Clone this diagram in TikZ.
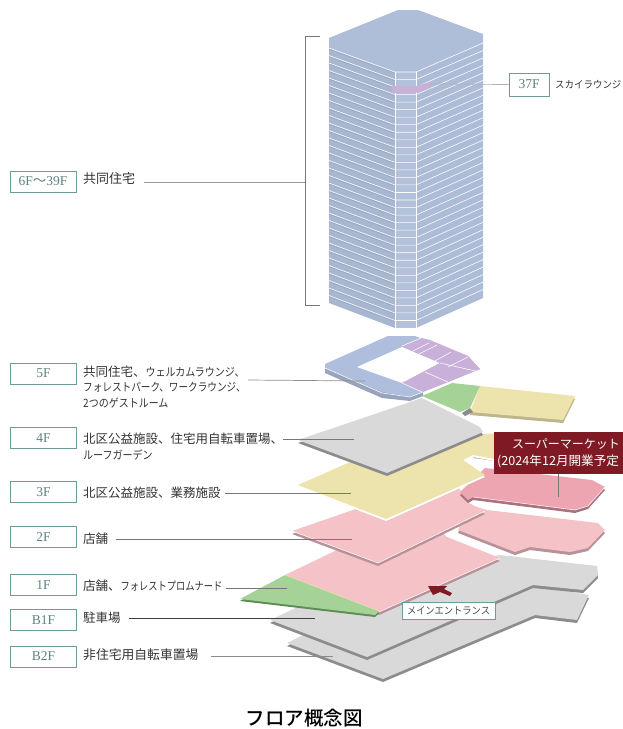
\documentclass[tikz,border=0pt]{standalone}
\usepackage{fontspec}
\setmainfont{Noto Sans CJK JP}
\newfontfamily\titlefont{Noto Sans CJK JP Medium}
\newfontfamily\boxfont{Liberation Serif}
\usetikzlibrary{calc}
\definecolor{tw}{HTML}{AEBDD8}
\definecolor{twl}{HTML}{A8B7D0}
\definecolor{twr}{HTML}{ADBCD6}
\definecolor{twc}{HTML}{B3C1DA}
\definecolor{twd}{HTML}{95A4BE}
\definecolor{bl}{HTML}{AEBEDC}
\definecolor{bld}{HTML}{98A4BC}
\definecolor{pu}{HTML}{C8B0D8}
\definecolor{gr}{HTML}{A5D296}
\definecolor{grd}{HTML}{5E8C55}
\definecolor{ye}{HTML}{EDE3AC}
\definecolor{yed}{HTML}{BDB68C}
\definecolor{gy}{HTML}{D9D9D9}
\definecolor{gyd}{HTML}{8C8C8C}
\definecolor{pk}{HTML}{F5C2C8}
\definecolor{pkd}{HTML}{B89299}
\definecolor{rd}{HTML}{EDA5B2}
\definecolor{rdd}{HTML}{A8737C}
\definecolor{mar}{HTML}{7F1A24}
\definecolor{tl}{HTML}{6F9A98}
\definecolor{ln}{HTML}{555555}
\tikzset{
  flbox/.style={draw=tl,line width=.7pt,fill=white,minimum width=66pt,minimum height=21pt,inner sep=0pt,text=tl!85!black,font=\boxfont\fontsize{13.5}{13.5}\selectfont},
  lab/.style={anchor=west,inner sep=0pt,text=black!80,font=\fontsize{12.5}{12.5}\selectfont},
  conn/.style={draw=ln!80,line width=.7pt},
  floorline/.style={white,line width=.55pt},
  edgeline/.style={white!70!#1,line width=.5pt},
  edgeline/.default=white
}
\newcommand{\kn}[2][.74]{\scalebox{#1}[.92]{#2}}
\newcommand{\slab}[4][3]{\fill[#2,shift={(0,#1)}] #4 -- cycle; \fill[#3] #4 -- cycle;}
\begin{document}
\begin{tikzpicture}[x=1pt,y=-1pt]
\useasboundingbox (0,0) rectangle (623,729);
% B2F
\slab{gyd}{gy}{(287,643)--(303,635)--(367,657)--(533,585)--(589,595)--(577,620)--(535,615)--(383,679)}
% B1F
\slab{gyd}{gy}{(270,620)--(360,578)--(500,555)--(597,566)--(598,575)--(583,590)--(533,585)--(367,657)}
% 1F
\slab{pkd}{pk}{(285,575)--(420,510)--(447,537)--(500,558)--(379,612)}
\draw[edgeline] (500,558)--(379,612);
\slab[2]{grd}{gr}{(240,599)--(285,575)--(379,611)--(375,615)}
\draw[edgeline,ye] (285,575)--(379,611);
% 2F right
\slab{pkd}{pk}{(458,530)--(470,505)--(487,510)--(598,523)--(605,530)--(588,548)--(570,552)--(530,547)--(515,552)}
% 2F
\slab{pkd}{pk}{(292,531)--(440,480)--(457,484)--(467,502)--(485,511)--(378,563)}
\draw[edgeline] (292,531)--(378,563)--(485,511);
% supermarket floor
\slab{rdd}{rd}{(460,492)--(485,468)--(592,480)--(605,487)--(588,506)--(575,510)--(473,497)--(468,500)}
\draw[edgeline] (473,497)--(575,510)--(588,506)--(605,487);
% 3F
\fill[yed] (473,455)--(495,459)--(495,461)--(473,458)--cycle;
\slab[2]{white}{ye}{(298,485)--(400,440)--(500,433)--(500,460)--(473,455)--(463,460)--(485,475)--(386,519)}
% 4F roof parts
\slab{yed}{ye}{(480,386)--(575,396)--(563,420)--(470,412)}
\fill[gyd] (462,413)--(470,408)--(473,412)--(465,416)--cycle;
\fill[gr] (422,396)--(452,383)--(480,386)--(470,408)--(460,412)--cycle;
% 4F
\slab{gyd}{gy}{(298,440)--(422,398)--(480,427)--(483,432)--(387,473)}
% 5F
\fill[bld] (325,366)--(325,373)--(382,398)--(410,401)--(423,396)--(423,390)--cycle;
\fill[bl] (325,364)--(325,368)--(382,392)--(410,397)--(423,392)--(448,382)--(480,369)--(468,356)--(415,336)--(388,336)--cycle;
\fill[white] (357,367)--(402,347)--(440,363)--(402,383)--cycle;
\fill[pu] (402,346)--(422,338)--(430,340)--(468,356)--(480,369)--(448,382)--(422,392)--(402,383)--(440,363)--cycle;
\draw[floorline] (402,346)--(421,338) (413,351)--(429,343) (419,354)--(437,345) (435,361)--(451,352) (448,367)--(468,357) (440,363)--(480,372) (425,372)--(448,382) (402,383)--(422,392);
\draw[floorline] (325,368)--(382,393)--(410,397)--(423,392);
% tower
\fill[tw] (329,38)--(398,10)--(418,10)--(483,34)--(483,43)--(416,72)--(395,72)--(329,48)--cycle;
\fill[twl] (329,48)--(395,72)--(395,328)--(329,303)--cycle;
\fill[twr] (483,43)--(416,72)--(416,328)--(483,298)--cycle;
\fill[twc] (395,72) rectangle (416,328);
\foreach \i in {0,...,33}{
  \pgfmathsetmacro{\yl}{48+\i*7.5}
  \pgfmathsetmacro{\yr}{43+\i*7.47}
  \pgfmathsetmacro{\yc}{72+\i*7.53}
  \draw[twd!70!twl,line width=.7pt] (329,\yl+1.2)--(395,\yc+1.2);
  \draw[floorline] (329,\yl)--(395,\yc)--(416,\yc)--(483,\yr);
}
\draw[floorline] (395,72)--(395,328) (416,72)--(416,328);
\fill[pu] (392,86)--(416,86)--(430,82)--(430,88)--(415,93)--(392,93)--cycle;
% label boxes
\node[flbox] (f6) at (43,181.5) {6F{\rmfamily ～}39F};
\node[flbox,minimum width=40pt,minimum height=23pt] (f37) at (529,84.5) {37F};
\node[flbox] (f5) at (43.5,373.5) {5F};
\node[flbox] (f4) at (43.5,438) {4F};
\node[flbox] (f3) at (43.5,492) {3F};
\node[flbox] (f2) at (43.5,537) {2F};
\node[flbox] (f1) at (43.5,585) {1F};
\node[flbox] (fb1) at (43.5,620) {B1F};
\node[flbox] (fb2) at (43.5,656.5) {B2F};
% texts
\node[lab,font=\fontsize{13}{13}\selectfont] (t6) at (83,179) {共同住宅};
\node[lab,font=\fontsize{11}{11}\selectfont] (t37) at (555,84.5) {\kn[.86]{スカイラウンジ}};
\node[lab] (t5a) at (83,372) {共同住宅、\kn[.8]{ウェルカムラウンジ、}};
\node[lab] (t5b) at (83,387) {\kn[.77]{フォレストパーク、ワークラウンジ、}};
\node[lab] (t5c) at (83,403) {\kn[.8]{2つのゲストルーム}};
\node[lab] (t4a) at (83,439) {北区公益施設、住宅用自転車置場、};
\node[lab] (t4b) at (83,455) {\kn[.8]{ルーフガーデン}};
\node[lab] (t3) at (83,493) {北区公益施設、業務施設};
\node[lab] (t2) at (83,539) {店舗};
\node[lab] (t1) at (83,586) {店舗、\kn{フォレストプロムナード}};
\node[lab] (tb1) at (83,618) {駐車場};
\node[lab,font=\fontsize{12.8}{12.8}\selectfont] (tb2) at (83,655) {非住宅用自転車置場};
% supermarket callout
\fill[mar] (494,432) rectangle (623,474);
\coordinate (smbot) at (558,474);
\coordinate (smend) at (558,497);
\node[anchor=center,inner sep=0pt,text=white,font=\fontsize{12}{12}\selectfont] (sm1) at (566,444) {スーパーマーケット};
\begin{scope}
\clip (494,432) rectangle (623,474);
\node[anchor=west,inner sep=0pt,text=white,font=\fontsize{12.6}{13}\selectfont] (sm2) at (497,461) {(2024年12月開業予定};
\end{scope}
% entrance
\fill[mar] (428,586)--(447,586)--(444,589)--(452,593)--(450,596)--(440,592)--(433,595)--cycle;
\node[draw=tl,line width=.6pt,fill=white,minimum width=93pt,minimum height=17pt,inner sep=0pt,text=black!70,font=\fontsize{11}{11}\selectfont] (ent) at (448.5,610.5) {\kn[.84]{メインエントランス}};
% connectors
\coordinate (a6) at (144,182); \coordinate (b6) at (305,182);
\draw[conn,draw=black!40] (a6)--(b6);
\coordinate (bt) at (320,36); \coordinate (tt) at (305,36); \coordinate (tb) at (305,305.5); \coordinate (bb) at (320,305.5);
\draw[conn] (bt)--(tt)--(tb)--(bb);
\coordinate (a37) at (430,84); \draw[conn,draw=black!30] (a37)--(f37.west);
\coordinate (a5) at (248,380); \coordinate (b5) at (365,381); \draw[conn,draw=black!45] (a5)--(b5);
\coordinate (a4) at (283,439); \coordinate (b4) at (354,439); \draw[conn] (a4)--(b4);
\coordinate (a3) at (225,493); \coordinate (b3) at (351,493); \draw[conn] (a3)--(b3);
\coordinate (a2) at (116,539); \coordinate (b2) at (352,539); \draw[conn,line width=.9pt] (a2)--(b2);
\coordinate (a1) at (226,588); \coordinate (b1) at (287,588); \draw[conn,line width=.9pt] (a1)--(b1);
\coordinate (ab1) at (129,618); \coordinate (bb1) at (315,618); \draw[conn,line width=.9pt,draw=black!75] (ab1)--(bb1);
\coordinate (ab2) at (211,656); \coordinate (bb2) at (333,656); \draw[conn,draw=black!45] (ab2)--(bb2);
\draw[conn] (smbot)--(smend);
% title
\node[inner sep=0pt,font=\titlefont\fontsize{19.5}{19.5}\selectfont] (title) at (304,718) {フロア概念図};
\end{tikzpicture}
\end{document}
